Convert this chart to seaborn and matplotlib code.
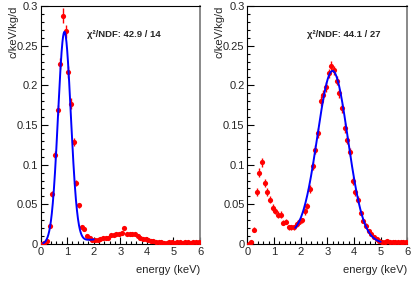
import numpy as np
import pandas as pd
import seaborn as sns
import matplotlib
matplotlib.use("Agg")
import matplotlib.pyplot as plt
from matplotlib.ticker import MultipleLocator

# bin centres (keV)
energy = np.round(np.arange(0.05, 6.0, 0.1), 2)

left_rate = [0.000, 0.001, 0.004, 0.023, 0.063, 0.112, 0.169, 0.227, 0.288, 0.268,
             0.217, 0.177, 0.128, 0.077, 0.049, 0.022, 0.019, 0.010, 0.007, 0.005,
             0.005, 0.005, 0.006, 0.007, 0.008, 0.008, 0.011, 0.011, 0.012, 0.013,
             0.014, 0.020, 0.013, 0.013, 0.013, 0.012, 0.010, 0.008, 0.006, 0.006,
             0.005, 0.004, 0.004, 0.003, 0.003, 0.002, 0.001, 0.001, 0.002, 0.002,
             0.001, 0.002, 0.002, 0.001, 0.002, 0.002, 0.001, 0.002, 0.002, 0.002]
left_err = [0.001, 0.001, 0.002, 0.003, 0.004, 0.005, 0.006, 0.007, 0.010, 0.008,
            0.008, 0.007, 0.005, 0.004, 0.003, 0.002, 0.002, 0.002, 0.001, 0.001] + [0.001] * 40

right_rate = [0.000, 0.002, 0.018, 0.065, 0.090, 0.103, 0.077, 0.065, 0.056, 0.046,
              0.042, 0.037, 0.037, 0.027, 0.028, 0.021, 0.021, 0.021, 0.025, 0.028,
              0.030, 0.041, 0.048, 0.069, 0.098, 0.119, 0.140, 0.180, 0.188, 0.198,
              0.215, 0.225, 0.219, 0.206, 0.190, 0.171, 0.146, 0.131, 0.116, 0.079,
              0.065, 0.056, 0.039, 0.029, 0.023, 0.017, 0.012, 0.009, 0.006, 0.004,
              0.003, 0.003, 0.004, 0.003, 0.003, 0.002, 0.002, 0.003, 0.002, 0.002]
right_err = [0.001, 0.002, 0.003, 0.005, 0.006, 0.006, 0.005, 0.005, 0.004, 0.004,
             0.004, 0.004, 0.004, 0.003, 0.003, 0.003, 0.003, 0.003, 0.003, 0.003,
             0.003, 0.004, 0.004, 0.005, 0.005, 0.006, 0.006, 0.006, 0.006, 0.006,
             0.006, 0.006, 0.006, 0.006, 0.006, 0.006, 0.006, 0.005, 0.005, 0.005,
             0.004, 0.004, 0.003, 0.003, 0.003, 0.002, 0.002, 0.002, 0.001, 0.001] + [0.001] * 10

# fit results: amplitude, mean, sigma, background at lo, background slope, range
left_fit = dict(amp=0.265, mean=0.90, sigma=0.24, bg0=0.0, slope=0.003, lo=0.1, hi=2.0)
right_fit = dict(amp=0.212, mean=3.20, sigma=0.57, bg0=0.010, slope=-0.0027, lo=1.8, hi=5.0)

left_chi = "χ²/NDF: 42.9 / 14"
right_chi = "χ²/NDF: 44.1 / 27"

sns.set_style("white")
plt.rcParams['font.family'] = ['Liberation Sans', 'DejaVu Sans']
plt.rcParams['xtick.direction'] = 'in'
plt.rcParams['ytick.direction'] = 'in'

fig = plt.figure(figsize=(4.15, 2.81), dpi=100)
ax1 = fig.add_axes([40.5 / 415, 37 / 281, 159.5 / 415, 238 / 281])
ax2 = fig.add_axes([247.3 / 415, 37 / 281, 160 / 415, 238 / 281])


def fitCurve(p):
    x = np.linspace(p['lo'], p['hi'], 300)
    y = p['amp'] * np.exp(-0.5 * ((x - p['mean']) / p['sigma']) ** 2) + p['bg0'] + p['slope'] * (x - p['lo'])
    return pd.DataFrame({'energy': x, 'rate': y})


def drawPanel(ax, rate, err, fit, chi, chiX):
    df = pd.DataFrame({'energy': energy, 'rate': rate, 'err': err})
    ax.errorbar(df.energy, df.rate, yerr=df.err, fmt='none', ecolor='red', elinewidth=1.0, zorder=2)
    sns.scatterplot(data=df, x='energy', y='rate', ax=ax, color='red', s=14, linewidth=0, zorder=3)
    sns.lineplot(data=fitCurve(fit), x='energy', y='rate', ax=ax, color='blue', linewidth=1.4, zorder=4)

    ax.set_xlim(0, 6)
    ax.set_ylim(0, 0.3)
    ax.xaxis.set_major_locator(MultipleLocator(1))
    ax.xaxis.set_minor_locator(MultipleLocator(0.2))
    ax.yaxis.set_minor_locator(MultipleLocator(0.01))
    ax.set_yticks([0, 0.05, 0.1, 0.15, 0.2, 0.25, 0.3])
    ax.set_yticklabels(['0', '0.05', '0.1', '0.15', '0.2', '0.25', '0.3'])
    ax.tick_params(which='major', length=5, width=0.8, labelsize=8, pad=2, color='black')
    ax.tick_params(which='minor', length=2.5, width=0.8, color='black')
    ax.tick_params(axis='x', which='both', bottom=True, top=False)
    ax.tick_params(axis='y', which='both', left=True, right=False)
    for s in ax.spines.values():
        s.set_color('black')
        s.set_linewidth(0.8)
    ax.spines['right'].set_color('#808080')
    ax.spines['right'].set_linewidth(1.3)

    ax.set_xlabel('energy (keV)', fontsize=8, ha='right')
    ax.xaxis.set_label_coords(1.0, -0.09)
    ax.set_ylabel('c/keV/kg/d', fontsize=8, ha='right')
    ax.yaxis.set_label_coords(-0.14, 1.0)
    ax.text(chiX, 0.88, chi, transform=ax.transAxes, fontsize=6.8, fontweight='bold', va='center')
    if ax.get_legend():
        ax.get_legend().remove()


drawPanel(ax1, left_rate, left_err, left_fit, left_chi, 0.29)
drawPanel(ax2, right_rate, right_err, right_fit, right_chi, 0.37)

fig.savefig('out.png', dpi=100)
